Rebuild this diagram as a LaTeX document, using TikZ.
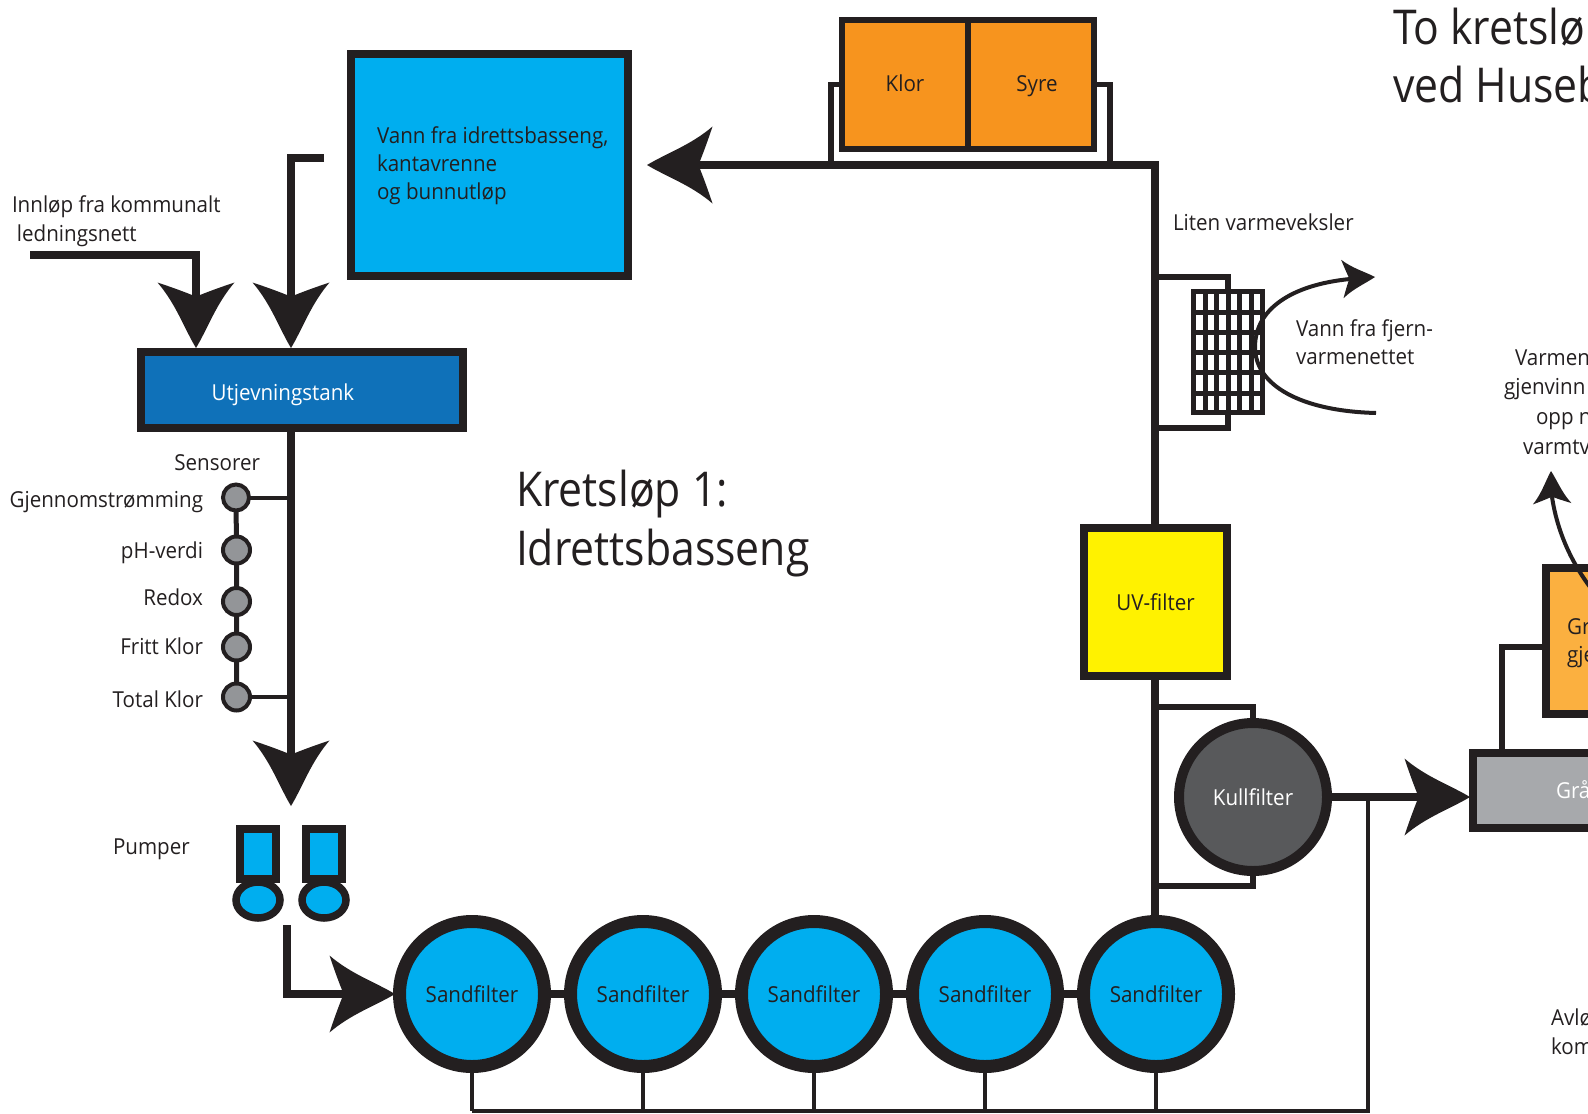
\documentclass[tikz,border=0pt]{standalone}
\usepackage{fontspec}
\setmainfont[FakeStretch=0.935]{Open Sans}
\newfontfamily\headfont[FakeStretch=0.89]{Open Sans}
\usetikzlibrary{shapes.geometric,backgrounds}
\definecolor{ink}{HTML}{231F20}
\definecolor{poolblue}{HTML}{00AEEF}
\definecolor{tankblue}{HTML}{0F71B9}
\definecolor{dose}{HTML}{F7941E}
\definecolor{gold}{HTML}{FBB040}
\definecolor{uvy}{HTML}{FFF200}
\definecolor{greybox}{HTML}{A7A9AC}
\definecolor{coal}{HTML}{58595B}
\definecolor{probe}{HTML}{939598}
\tikzset{
  flow/.style={draw=ink,line width=4pt},
  pipe/.style={draw=ink,line width=2.6pt},
  thinline/.style={draw=ink,line width=2pt},
  txt/.style={inner sep=0pt,outer sep=0pt,text=ink,font=\fontsize{11}{14}\selectfont},
  big/.style={inner sep=0pt,outer sep=0pt,text=ink,font=\headfont\fontsize{24}{29.5}\selectfont},
  box/.style={draw=ink,line width=4pt,inner sep=0pt,outer sep=0pt,text=ink,font=\fontsize{11}{14}\selectfont},
  sandf/.style={circle,draw=ink,line width=6.5pt,fill=poolblue,minimum size=72.5pt,inner sep=0pt,outer sep=0pt,text=ink,font=\fontsize{11}{14}\selectfont},
  probeN/.style={circle,draw=ink,line width=2pt,fill=probe,minimum size=27pt/2,inner sep=0pt,outer sep=0pt},
  pumpbody/.style={draw=ink,line width=4pt,fill=poolblue,minimum width=17.75pt,minimum height=25.25pt,inner sep=0pt,outer sep=0pt},
  pumphead/.style={ellipse,draw=ink,line width=3.75pt,fill=poolblue,minimum width=22pt,minimum height=18pt,inner sep=0pt,outer sep=0pt},
  tiphead/.pic={\fill[ink] (0,0) .. controls (-20,12) and (-44,20) .. (-65.5,38.5)
     .. controls (-61,25) and (-57,14) .. (-53,4) -- (-53,-4)
     .. controls (-57,-14) and (-61,-25) .. (-65.5,-38.5)
     .. controls (-44,-20) and (-20,-12) .. (0,0) -- cycle;},
}
\begin{document}
\begin{tikzpicture}[x=0.5pt,y=-0.5pt]
\useasboundingbox (0,0) rectangle (1588,1113);
% main boxes
\node[box,fill=poolblue,minimum width=138.5pt,minimum height=111pt] (pool) at (489.5,165) {};
\node[box,fill=tankblue,minimum width=161pt,minimum height=38pt] (tank) at (302,390) {};
\node[box,line width=2.75pt,fill=dose,minimum width=63pt,minimum height=64.5pt] (klor) at (905,84.5) {};
\node[box,line width=2.75pt,fill=dose,minimum width=63pt,minimum height=64.5pt] (syre) at (1031,84.5) {};
\node[box,fill=uvy,minimum width=71.5pt,minimum height=74pt] (uv) at (1155.5,602) {UV-filter};
\node[box,fill=gold,minimum width=120pt,minimum height=73pt] (gg) at (1666,641) {};
\node[box,fill=greybox,minimum width=180pt,minimum height=37.5pt] (grey) at (1653,790.5) {};
\node[circle,draw=ink,line width=5pt,fill=coal,minimum size=74pt,inner sep=0pt,outer sep=0pt,text=white,font=\fontsize{11}{14}\selectfont] (kull) at (1253,797) {Kullfilter};
% sand filters
\node[sandf] (s1) at (472,994) {Sandfilter};
\node[sandf] (s2) at (643,994) {Sandfilter};
\node[sandf] (s3) at (814,994) {Sandfilter};
\node[sandf] (s4) at (985,994) {Sandfilter};
\node[sandf] (s5) at (1156,994) {Sandfilter};
% sensors
\node[probeN,minimum size=13pt] (p1) at (236,497.5) {};
\node[probeN] (p2) at (236.5,550) {};
\node[probeN] (p3) at (236.5,601.5) {};
\node[probeN] (p4) at (236.5,647) {};
\node[probeN] (p5) at (236.5,697) {};
% pumps
\node[pumpbody] (b1) at (258,854) {};
\node[pumpbody] (b2) at (324,854) {};
\node[pumphead] (h1) at (258,900) {};
\node[pumphead] (h2) at (324,900) {};
% heat exchanger
\node[draw=ink,line width=2.5pt,minimum width=34.5pt,minimum height=60.75pt,inner sep=0pt,outer sep=0pt] (hx) at (1228,352) {};
\foreach \gx in {1205,1216.5,1228,1239.5,1251}
  \draw[ink,line width=2.5pt] (\gx,291) -- (\gx,413);
\foreach \gy in {312,332,352.5,372.5,393}
  \draw[ink,line width=2.5pt] (1193,\gy) -- (1263,\gy);
% named free ends
\coordinate (inlet) at (30,255);
\coordinate (stemA) at (196,310);
\coordinate (tipA) at (196,348);
\coordinate (ret) at (324,157.5);
\coordinate (stemB) at (291,310);
\coordinate (tipB) at (291,348);
\coordinate (sen1) at (291,497.5);
\coordinate (sen5) at (291,697);
\coordinate (stemC) at (291,770);
\coordinate (tipC) at (291,806);
\coordinate (pout) at (287,925);
\coordinate (stemD) at (360,994);
\coordinate (tipD) at (395,994);
\coordinate (stemE) at (690,165);
\coordinate (tipE) at (647,165);
\coordinate (corner) at (1155,165);
\coordinate (mainbase) at (1155,930);
\coordinate (m1) at (831,165);
\coordinate (m2) at (1110,165);
\coordinate (j1) at (1155,277);
\coordinate (j2) at (1155,428);
\coordinate (k1) at (1155,707);
\coordinate (k2) at (1155,886);
\coordinate (stemF) at (1430,797);
\coordinate (tipF) at (1470,797);
\coordinate (busR) at (1368,797);
\coordinate (busY) at (1368,1111);
\coordinate (g1) at (1502,753);
\coordinate (o1) at (1546,647);
\coordinate (hotA) at (1376,413);
\coordinate (hotB) at (1350,279);
\coordinate (tipG) at (1375,277);
\coordinate (coldA) at (1590,587);
\coordinate (coldB) at (1552,497);
\coordinate (tipH) at (1551,471);
% connectors behind the nodes
\begin{scope}[on background layer]
  \draw[flow] (inlet) -| (stemA);
  \draw[flow] (ret) -| (stemB);
  \draw[flow] (tank.south -| tipB) -- (stemC);
  \draw[thinline] (p1) -- (sen1);
  \draw[thinline] (p5) -- (sen5);
  \draw[draw=ink,line width=2.5pt] (p1) -- (p2) -- (p3) -- (p4) -- (p5);
  \draw[flow] (pout) |- (stemD);
  \draw[flow] (mainbase) -- (corner) -- (stemE);
  \draw[pipe] (klor.west) -| (m1);
  \draw[pipe] (syre.east) -| (m2);
  \draw[pipe] (j1) -| (hx.north);
  \draw[pipe] (j2) -| (hx.south);
  \draw[pipe] (k1) -| (kull.north);
  \draw[pipe] (k2) -| (kull.south);
  \draw[flow] (s1) -- (s2) -- (s3) -- (s4) -- (s5);
  \draw[flow] (kull) -- (stemF);
  \draw[pipe] (g1) |- (o1);
  \draw[thinline] (s1) -- (s1 |- busY);
  \draw[thinline] (s2) -- (s2 |- busY);
  \draw[thinline] (s3) -- (s3 |- busY);
  \draw[thinline] (s4) -- (s4 |- busY);
  \draw[thinline] (s5) -- (s5 |- busY);
  \draw[draw=ink,line width=2.3pt] (s1 |- busY) -- (busY) -- (busR);
\end{scope}
% arrow heads
\pic[rotate=-90] at (tipA) {tiphead};
\pic[rotate=-90] at (tipB) {tiphead};
\pic[rotate=-90] at (tipC) {tiphead};
\pic at (tipD) {tiphead};
\pic[rotate=180] at (tipE) {tiphead};
\pic at (tipF) {tiphead};
% curved lines
\draw[ink,line width=2pt] (hotA) .. controls (1300,411) and (1255,385) .. (1255,347) .. controls (1255,310) and (1290,285) .. (hotB);
\pic[rotate=3.5,scale=0.5] at (tipG) {tiphead};
\draw[ink,line width=2pt] (coldA) .. controls (1570,560) and (1557,530) .. (coldB);
\pic[rotate=92,scale=0.5] at (tipH) {tiphead};
% texts
\node[txt,anchor=base,text=white] (tanklab) at (283,400) {Utjevningstank};
\node[txt,anchor=base] (klorlab) at (905,91) {Klor};
\node[txt,anchor=base] (syrelab) at (1037,91) {Syre};
\node[big,anchor=base west] (t1) at (1393,45) {To kretsløp};
\node[big,anchor=base west] (t2) at (1393,103) {ved Huseb};
\node[big,anchor=base west] (k3) at (516,506) {Kretsløp 1:};
\node[big,anchor=base west] (k4) at (516,565) {Idrettsbasseng};
\node[txt,anchor=base west] (l1) at (377,143) {Vann fra idrettsbasseng,};
\node[txt,anchor=base west] (l2) at (377,171) {kantavrenne};
\node[txt,anchor=base west] (l3) at (377,199) {og bunnutløp};
\node[txt,anchor=base west] (l4) at (12,212) {Innløp fra kommunalt};
\node[txt,anchor=base west] (l5) at (17,241) {ledningsnett};
\node[txt,anchor=base west] (l6) at (1173,230) {Liten varmeveksler};
\node[txt,anchor=base west] (l7) at (1296,336) {Vann fra fjern-};
\node[txt,anchor=base west] (l8) at (1296,364) {varmenettet};
\node[txt,anchor=base east] (n0) at (260,470) {Sensorer};
\node[txt,anchor=base east] (n1) at (203,507) {Gjennomstrømming};
\node[txt,anchor=base east] (n2) at (203,558) {pH-verdi};
\node[txt,anchor=base east] (n3) at (203,605) {Redox};
\node[txt,anchor=base east] (n4) at (203,654) {Fritt Klor};
\node[txt,anchor=base east] (n5) at (203,707) {Total Klor};
\node[txt,anchor=base west] (n6) at (113,854) {Pumper};
\node[txt,anchor=base west] (r1) at (1515,365) {Varmen};
\node[txt,anchor=base west] (r2) at (1504,394) {gjenvinn};
\node[txt,anchor=base west] (r3) at (1536,424) {opp n};
\node[txt,anchor=base west] (r4) at (1523,454) {varmtv};
\node[txt,anchor=base west] (r5) at (1567,634) {Gr};
\node[txt,anchor=base west] (r6) at (1567,662) {gje};
\node[txt,anchor=base west,text=white] (r7) at (1556,798) {Grå};
\node[txt,anchor=base west] (r8) at (1551,1025) {Avlø};
\node[txt,anchor=base west] (r9) at (1551,1054) {kom};
\end{tikzpicture}
\end{document}
